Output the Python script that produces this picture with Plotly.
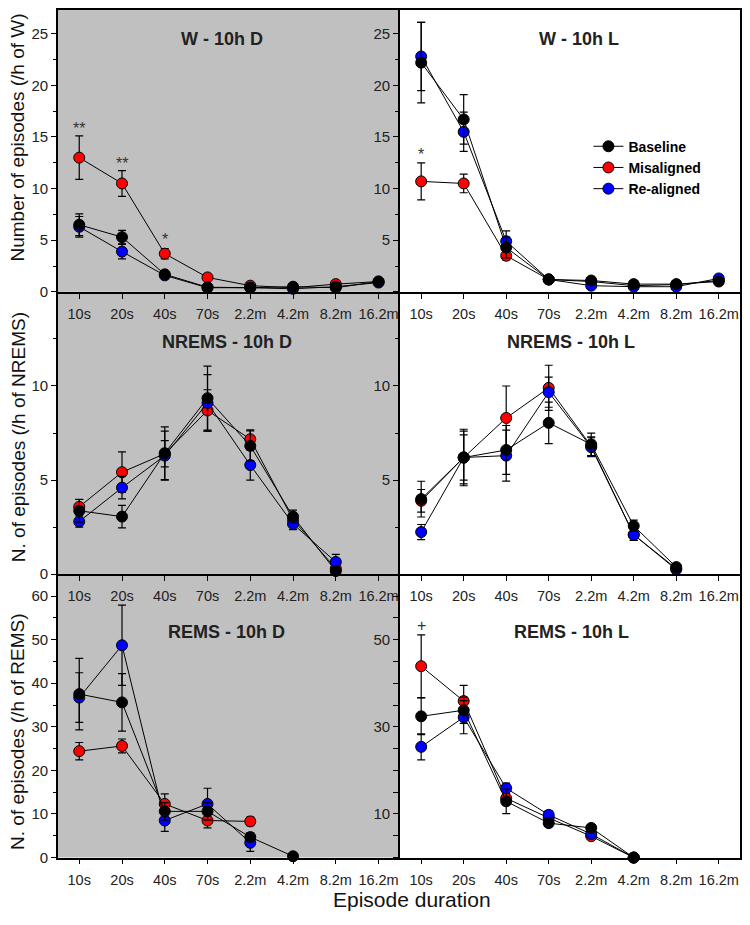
import plotly.graph_objects as go

# ---------------- data ----------------
cats = ["10s", "20s", "40s", "70s", "2.2m", "4.2m", "8.2m", "16.2m"]

# W - 10h D
wd_base = [6.5, 5.3, 1.7, 0.45, 0.4, 0.5, 0.4, 1.0]
wd_base_err = [1.05, 0.65, 0.3, 0.15, 0.1, 0.1, 0.1, 0.2]
wd_mis = [13.0, 10.5, 3.7, 1.4, 0.6, 0.4, 0.75, 1.0]
wd_mis_err = [2.1, 1.25, 0.5, 0.3, 0.15, 0.1, 0.2, 0.2]
wd_re = [6.3, 3.9, 1.6, 0.4, 0.4, 0.3, 0.5, 0.9]
wd_re_err = [1.0, 0.7, 0.3, 0.1, 0.1, 0.1, 0.1, 0.2]

# W - 10h L
wl_base = [22.2, 16.7, 4.3, 1.2, 1.1, 0.75, 0.75, 1.0]
wl_base_err = [3.9, 2.4, 1.0, 0.2, 0.2, 0.15, 0.15, 0.2]
wl_mis = [10.7, 10.5, 3.5, 1.2, 1.0, 0.6, 0.7, 1.1]
wl_mis_err = [1.8, 0.9, 0.4, 0.2, 0.15, 0.1, 0.1, 0.2]
wl_re = [22.8, 15.5, 4.9, 1.2, 0.6, 0.5, 0.5, 1.3]
wl_re_err = [3.3, 1.9, 1.0, 0.2, 0.15, 0.1, 0.1, 0.2]

# NREMS - 10h D
nd_base = [3.37, 3.06, 6.43, 9.35, 6.82, 3.06, 0.17, None]
nd_base_err = [0.6, 0.6, 1.4, 1.7, 0.8, 0.35, 0.1, None]
nd_mis = [3.58, 5.42, 6.4, 8.7, 7.17, 2.9, 0.3, None]
nd_mis_err = [0.4, 1.08, 0.7, 1.1, 0.5, 0.3, 0.2, None]
nd_re = [2.8, 4.6, 6.3, 9.1, 5.8, 2.67, 0.65, None]
nd_re_err = [0.3, 0.6, 1.3, 1.5, 0.8, 0.3, 0.4, None]

# NREMS - 10h L
nl_base = [3.99, 6.2, 6.6, 8.04, 6.9, 2.57, 0.38, None]
nl_base_err = [0.95, 1.5, 1.3, 1.1, 0.6, 0.3, 0.15, None]
nl_mis = [3.9, 6.2, 8.3, 9.9, 6.8, 2.1, 0.25, None]
nl_mis_err = [0.6, 1.2, 1.7, 1.2, 0.5, 0.3, 0.1, None]
nl_re = [2.24, 6.2, 6.3, 9.67, 6.75, 2.1, 0.3, None]
nl_re_err = [0.4, 1.4, 1.35, 0.8, 0.5, 0.3, 0.1, None]

# REMS - 10h D
rd_base = [37.5, 35.6, 10.6, 10.6, 4.7, 0.3, None, None]
rd_base_err = [8.2, 6.6, 2.0, 2.0, 1.0, 0.0, None, None]
rd_mis = [24.4, 25.6, 12.3, 8.5, 8.3, None, None, None]
rd_mis_err = [2.0, 1.6, 2.3, 1.7, 1.0, None, None, None]
rd_re = [36.7, 48.7, 8.5, 12.3, 3.4, None, None, None]
rd_re_err = [5.7, 9.2, 2.5, 3.6, 2.0, None, None, None]

# REMS - 10h L
rl_base = [32.4, 33.8, 12.9, 7.9, 6.8, 0.0, None, None]
rl_base_err = [4.2, 3.0, 2.8, 0.8, 0.6, 0.0, None, None]
rl_mis = [43.9, 35.9, 13.6, 9.1, 4.9, 0.0, None, None]
rl_mis_err = [7.2, 3.6, 1.5, 1.0, 0.6, 0.0, None, None]
rl_re = [25.4, 32.2, 15.9, 9.8, 5.4, 0.0, None, None]
rl_re_err = [3.0, 3.8, 1.2, 1.0, 0.5, 0.0, None, None]

series_names = ["Baseline", "Misaligned", "Re-aligned"]
series_colors = {"Baseline": "#000000", "Misaligned": "#ff0000", "Re-aligned": "#0000ff"}

panel_titles = ["W - 10h D", "W - 10h L", "NREMS - 10h D", "NREMS - 10h L",
                "REMS - 10h D", "REMS - 10h L"]
panel_data = [
    {"Baseline": (wd_base, wd_base_err), "Misaligned": (wd_mis, wd_mis_err), "Re-aligned": (wd_re, wd_re_err)},
    {"Baseline": (wl_base, wl_base_err), "Misaligned": (wl_mis, wl_mis_err), "Re-aligned": (wl_re, wl_re_err)},
    {"Baseline": (nd_base, nd_base_err), "Misaligned": (nd_mis, nd_mis_err), "Re-aligned": (nd_re, nd_re_err)},
    {"Baseline": (nl_base, nl_base_err), "Misaligned": (nl_mis, nl_mis_err), "Re-aligned": (nl_re, nl_re_err)},
    {"Baseline": (rd_base, rd_base_err), "Misaligned": (rd_mis, rd_mis_err), "Re-aligned": (rd_re, rd_re_err)},
    {"Baseline": (rl_base, rl_base_err), "Misaligned": (rl_mis, rl_mis_err), "Re-aligned": (rl_re, rl_re_err)},
]

y_titles = ["Number of episodes (/h of W)", "N. of episodes (/h of NREMS)", "N. of episodes (/h of REMS)"]
x_title = "Episode duration"

# significance marks: (panel, category, y, text)
sig_marks = [(0, "10s", 15.8, "**"), (0, "20s", 12.4, "**"), (0, "40s", 5.1, "*"),
             (1, "10s", 13.3, "*"), (5, "10s", 53.3, "+")]

# ---------------- layout helpers ----------------
# the page body has an 8px margin; the figure is sized to fit inside it exactly
OFF = 8
FW, FH = 734, 909
FONT = "Liberation Sans, Arial, sans-serif"


def fx(px):
    return min(1.0, max(0.0, (px - OFF) / FW))


def fy(py):
    return min(1.0, max(0.0, 1 - (py - OFF) / FH))


xdoms = [[fx(58), fx(401)], [fx(401), fx(743)]]
ydoms = [[fy(293), fy(8)], [fy(578.5), fy(293)], [fy(865), fy(578.5)]]

yspecs = [
    # (range, tickvals, ticktext, minor dtick)
    ([0, 27.3], [0, 5, 10, 15, 20, 25], ["0", "5", "10", "15", "20", "25"], 2.5),
    ([0, 27.3], [0, 5, 10, 15, 20, 25], ["", "5", "10", "15", "20", "25"], 2.5),
    ([0, 15], [0, 5, 10, 15], ["0", "5", "10", ""], 2.5),
    ([0, 15], [0, 5, 10, 15], ["", "5", "10", ""], 2.5),
    ([0, 65], [0, 10, 20, 30, 40, 50, 60], ["0", "10", "20", "30", "40", "50", "60"], 5),
    ([0, 65], list(range(0, 65, 5)),
     ["", "", "10", "", "", "", "30", "", "", "", "50", "", ""], None),
]

fig = go.Figure()

draw_order = ["Misaligned", "Re-aligned", "Baseline"]
ranks = {"Baseline": 1, "Misaligned": 2, "Re-aligned": 3}

for i, pdata in enumerate(panel_data):
    xa = "x" if i == 0 else f"x{i+1}"
    ya = "y" if i == 0 else f"y{i+1}"
    for name in draw_order:
        vals, errs = pdata[name]
        fig.add_trace(go.Scatter(
            x=cats, y=vals, name=name, legendrank=ranks[name],
            showlegend=(i == 0), mode="lines+markers",
            line=dict(color="black", width=1),
            marker=dict(color=series_colors[name], size=11, symbol="circle",
                        line=dict(color="black", width=1)),
            error_y=dict(type="data", array=errs, visible=True, color="black",
                         thickness=1.2, width=4),
            xaxis=xa, yaxis=ya, cliponaxis=False, connectgaps=False,
        ))

layout = dict(
    width=FW, height=FH, margin=dict(l=0, r=0, t=0, b=0),
    paper_bgcolor="white", plot_bgcolor="rgba(0,0,0,0)",
    font=dict(family=FONT, color="#111"),
    showlegend=True,
    legend=dict(x=fx(590), y=fy(130), xanchor="left", yanchor="top",
                bgcolor="rgba(0,0,0,0)", itemwidth=30, tracegroupgap=0,
                font=dict(size=14, family=FONT, color="black", weight="bold")),
)

shapes = []
annotations = []
for i in range(6):
    row, col = i // 2, i % 2
    xkey = "xaxis" if i == 0 else f"xaxis{i+1}"
    ykey = "yaxis" if i == 0 else f"yaxis{i+1}"
    xa = "x" if i == 0 else f"x{i+1}"
    ya = "y" if i == 0 else f"y{i+1}"
    layout[xkey] = dict(
        domain=xdoms[col], anchor=ya, type="category", categoryorder="array",
        categoryarray=cats, range=[-0.5, 7.5], showline=True, linecolor="black",
        linewidth=1.5, mirror=(row == 0), ticks="outside", ticklen=5, tickcolor="black",
        tickwidth=1, tickfont=dict(size=14.5, family=FONT, color="#222"),
        ticklabelstandoff=3, showgrid=False, zeroline=False, fixedrange=True)
    rng, tv, tt, mdt = yspecs[i]
    yax = dict(
        domain=ydoms[row], anchor=xa, range=rng, tickmode="array", tickvals=tv,
        ticktext=tt, showline=True, linecolor="black", linewidth=1.5,
        mirror=(col == 1), ticks="outside", ticklen=5, tickcolor="black", tickwidth=1,
        tickfont=dict(size=15, family=FONT, color="#222"), showgrid=False,
        zeroline=False, fixedrange=True)
    if mdt is not None:
        yax["minor"] = dict(tickmode="linear", tick0=0, dtick=mdt, ticks="outside",
                            ticklen=3, tickcolor="black", tickwidth=1, showgrid=False)
    layout[ykey] = yax
    if col == 0:
        shapes.append(dict(type="rect", xref=f"{xa} domain", yref=f"{ya} domain",
                           x0=0, x1=1, y0=0, y1=1, fillcolor="#c0c0c0",
                           line=dict(width=0), layer="below"))

title_pos = [(223, 37), (581, 37), (228, 344), (573, 344), (227, 637), (573, 637)]
for (px, py), t in zip(title_pos, panel_titles):
    annotations.append(dict(text=f"<b>{t}</b>", x=fx(px), y=fy(py), xref="paper",
                            yref="paper", showarrow=False, xanchor="center",
                            yanchor="middle",
                            font=dict(size=18, family=FONT, color="#222")))

for (py, t) in zip([137, 440, 737], y_titles):
    annotations.append(dict(text=t, x=fx(18), y=fy(py), xref="paper", yref="paper",
                            showarrow=False, textangle=-90, xanchor="center",
                            yanchor="middle",
                            font=dict(size=19, family=FONT, color="#111")))

annotations.append(dict(text=x_title, x=fx(413), y=fy(907), xref="paper", yref="paper",
                        showarrow=False, xanchor="center", yanchor="middle",
                        font=dict(size=21, family=FONT, color="#111")))

for (pi, cat, yv, t) in sig_marks:
    xa = "x" if pi == 0 else f"x{pi+1}"
    ya = "y" if pi == 0 else f"y{pi+1}"
    annotations.append(dict(text=t, x=cat, y=yv, xref=xa, yref=ya, showarrow=False,
                            xanchor="center", yanchor="middle",
                            font=dict(size=16, family=FONT, color="#333")))

layout["shapes"] = shapes
layout["annotations"] = annotations
fig.update_layout(**layout)

fig.write_html("out.html")
